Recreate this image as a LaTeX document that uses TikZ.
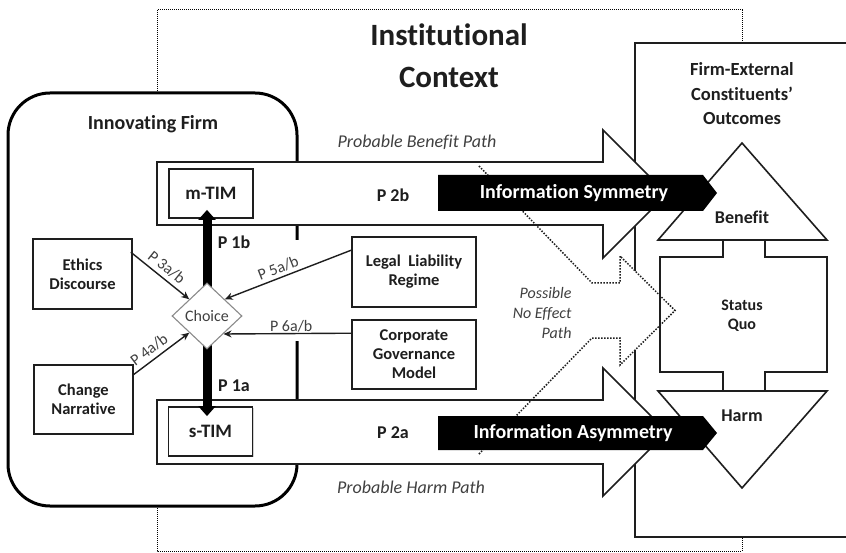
\documentclass[tikz,border=0pt]{standalone}
\usepackage{fontspec}
\setmainfont{Carlito}[RawFeature={-liga;-clig;-calt;-dlig}]
\usetikzlibrary{shapes.geometric,arrows.meta,shadows}
\definecolor{ink}{HTML}{1E1E1E}
\definecolor{soft}{HTML}{404040}
\definecolor{greyline}{HTML}{8A8A8A}
\begin{document}
\begin{tikzpicture}[x=1pt,y=-1pt,
  ctxline/.style={line width=1pt, dash pattern=on 1pt off 1pt},
  outline/.style={draw=ink, line width=1.6pt, fill=white},
  bigarrow/.style={draw=ink, line width=1.7pt, fill=white},
  noeffline/.style={draw=ink, line width=1.5pt, dash pattern=on 1.5pt off 1.5pt},
  box/.style={draw=ink, line width=1.6pt, fill=white, text=ink, font=\fontsize{16.5}{19}\selectfont\bfseries, align=center, inner sep=0pt},
  timbox/.style={draw=ink, line width=1.8pt, fill=white, text=ink, font=\fontsize{19}{22}\selectfont\bfseries, inner sep=0pt, minimum width=84pt, minimum height=49pt, drop shadow={shadow xshift=1.2pt, shadow yshift=-1.2pt, opacity=0.35}},
  headtext/.style={text=ink, font=\fontsize{18.5}{24.5}\selectfont\bfseries, align=center},
  plabel/.style={text=ink, font=\fontsize{18}{21}\selectfont\bfseries},
  pathtext/.style={text=soft, font=\fontsize{18}{21}\selectfont\itshape},
  infotext/.style={text=white, font=\fontsize{20}{23}\selectfont\bfseries},
  conn/.style={draw=ink, line width=1.4pt, -{Stealth[length=8pt,width=7pt]}},
  lbl/.style={text=soft, font=\fontsize{16}{19}\selectfont, inner sep=1pt},
  thickarrow/.style={draw=black, line width=9pt, -{Triangle[width=17pt,length=10pt]}}
]
\useasboundingbox (0,0) rectangle (846,553);
\clip (0,0) rectangle (846,553);
\fill[white] (0,0) rectangle (846,553);

% institutional context
\draw[ctxline] (157,10) rectangle (742,551);
% outcomes box
\draw[outline] (860,43) -- (635,43) -- (635,537) -- (860,537);
% innovating firm
\draw[draw=black, line width=3pt, fill=white, rounded corners=42pt] (8,93) rectangle (297,506);
\fill[white] (291,240) rectangle (303,341);

% cover under the no-effect arrow head
\fill[white] (620,256) -- (675,310.5) -- (620,365) -- cycle;

% big path arrows
\draw[bigarrow] (157,162) -- (603,162) -- (603,130) -- (667,194) -- (603,258) -- (603,225) -- (157,225) -- cycle;
\draw[bigarrow] (157,400) -- (603,400) -- (603,368) -- (667,432) -- (603,496) -- (603,464) -- (157,464) -- cycle;

% outcomes
\draw[outline] (723,240) -- (765,240) -- (765,257) -- (827,257) -- (827,372) -- (765,372) -- (765,391) -- (723,391) -- (723,372) -- (660,372) -- (660,257) -- (723,257) -- cycle;
\draw[outline] (742,143) -- (827,240) -- (658,240) -- cycle;
\draw[outline] (658,391) -- (827,391) -- (742,488) -- cycle;
\node[text=ink, font=\fontsize{16}{19}\selectfont\bfseries, align=center] (sq) at (742,315.5) {Status\\Quo};
\node[text=ink, font=\fontsize{18}{21}\selectfont\bfseries] (benefit) at (742,217) {Benefit};
\node[text=ink, font=\fontsize{18}{21}\selectfont\bfseries] (harm) at (742,416) {Harm};

% possible no effect path
\draw[noeffline] (479,166) -- (592,283) -- (620,283) -- (620,256) -- (675,310.5) -- (620,365) -- (620,338) -- (592,338) -- (478,455);

% information arrows
\fill[black] (438,175) -- (703,175) -- (717,193) -- (703,211) -- (438,211) -- cycle;
\node[infotext] (sym) at (574,193) {Information Symmetry};
\fill[black] (438,416) -- (703,416) -- (717,433) -- (703,450) -- (438,450) -- cycle;
\node[infotext] (asym) at (573,433) {Information Asymmetry};

% titles and texts
\node[text=ink, font=\fontsize{31}{42}\selectfont\bfseries, align=center] (ctx) at (449,56) {Institutional\\Context};
\node[text=ink, font=\fontsize{20}{24}\selectfont\bfseries] (firmlbl) at (153,124) {Innovating Firm};
\node[headtext] (outlbl) at (742,94) {Firm-External\\Constituents’\\Outcomes};
\node[pathtext] (benpath) at (417,142) {Probable Benefit Path};
\node[pathtext] (harmpath) at (411,487) {Probable Harm Path};
\node[text=soft, font=\fontsize{16}{20}\selectfont\itshape, align=right, anchor=east] (noeff) at (575,313) {Possible\\No Effect\\Path};
\node[plabel] (p2b) at (393,195) {P 2b};
\node[plabel] (p2a) at (393,433) {P 2a};
\node[plabel] (p1b) at (234,242) {P 1b};
\node[plabel] (p1a) at (234,386) {P 1a};

% boxes
\node[timbox] (mtim) at (211,193.5) {m-TIM};
\node[timbox] (stim) at (210.5,431.5) {s-TIM};
\node[box, minimum width=99pt, minimum height=70pt] (ethics) at (82.5,274) {Ethics\\Discourse};
\node[box, minimum width=99pt, minimum height=69pt] (change) at (83.5,399.5) {Change\\Narrative};
\node[box, minimum width=124pt, minimum height=70pt] (legal) at (414,272) {Legal\ \ Liability\\Regime};
\node[box, minimum width=124pt, minimum height=69pt] (corp) at (414,354.5) {Corporate\\Governance\\Model};

% choice
\coordinate (cc) at (207,316);
\draw[thickarrow, shorten >=-9pt] (cc) -- (cc |- mtim.south);
\draw[thickarrow, shorten >=-10pt] (cc) -- (cc |- stim.north);
\node[diamond, draw=greyline, line width=1.1pt, fill=white, minimum width=70pt, minimum height=66pt, inner sep=0pt, text=soft, font=\fontsize{16}{19}\selectfont] (choice) at (cc) {Choice};

% connectors
\draw[conn] ([xshift=-2pt,yshift=-14pt]ethics.north east) -- (choice.north west) node[lbl, pos=0.5, sloped, above=3pt] {P 3a/b};
\draw[conn] ([xshift=-1pt,yshift=-11pt]change.north east) -- (choice.south west) node[lbl, pos=0.4, sloped, above=3pt] {P 4a/b};
\draw[conn] ([yshift=-14pt]legal.north west) -- (choice.north east) node[lbl, pos=0.55, sloped, above=2pt] {P 5a/b};
\draw[conn] ([yshift=-14pt]corp.north west) -- ([xshift=-19pt,yshift=-18pt]choice.east) node[lbl, pos=0.47, above=0pt] {P 6a/b};
\end{tikzpicture}
\end{document}
